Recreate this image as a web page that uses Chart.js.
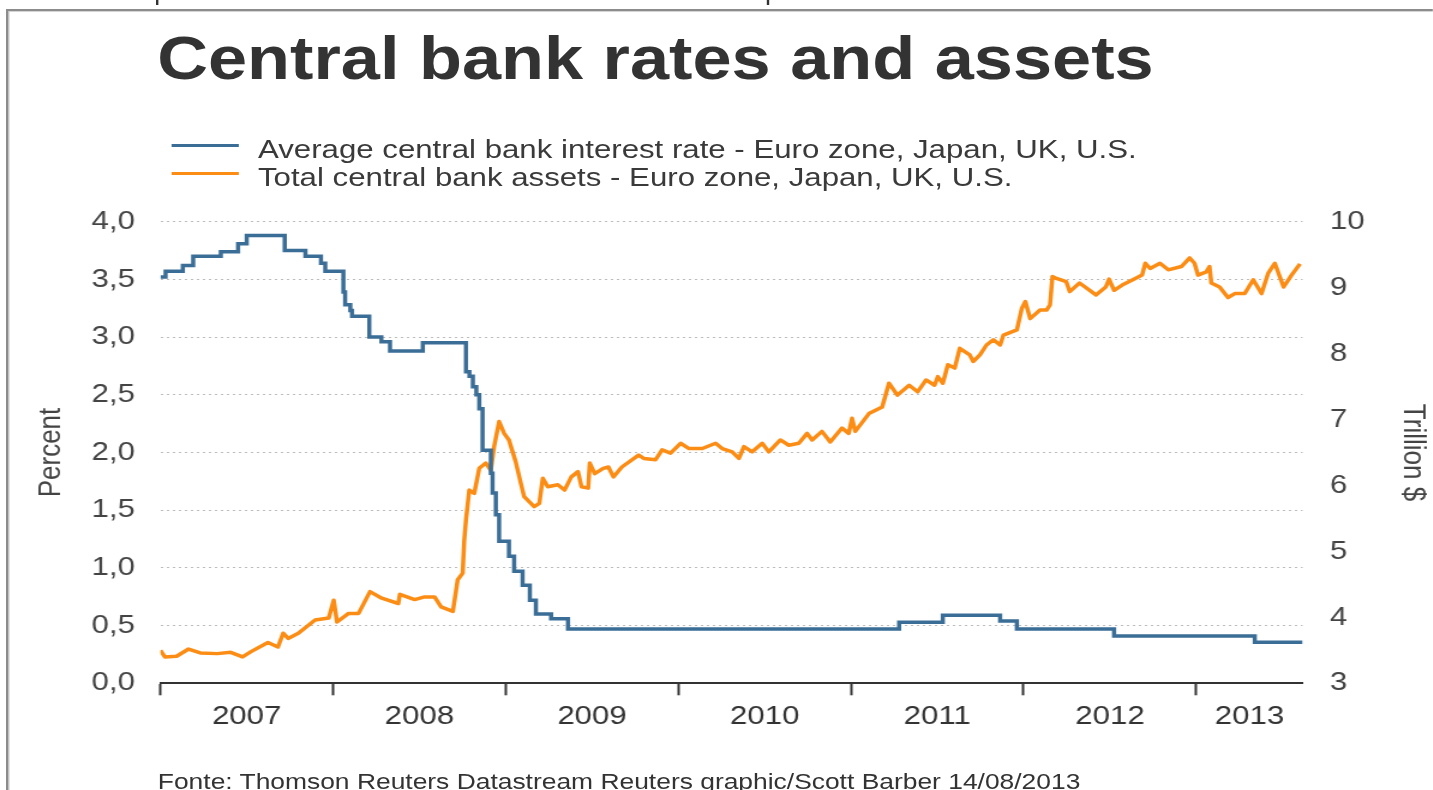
<!DOCTYPE html>
<html lang="en">
<head>
  <meta charset="UTF-8" />
  <title>Central bank rates and assets</title>
  <script src="https://cdn.jsdelivr.net/npm/chart.js"></script>
  <style>
    html, body {
      margin: 0;
      padding: 0;
      background: #fff;
      overflow: hidden;
    }
    body {
      width: 1433px;
      height: 790px;
      font-family: 'Liberation Sans', Arial, sans-serif;
      color: #333;
    }
    /* graphic is laid out 1194px wide, then stretched to the window width */
    #page {
      position: relative;
      width: 1194px;
      height: 790px;
      overflow: hidden;
      transform: scaleX(1.2);
      transform-origin: 0 0;
    }
    #frame {
      position: absolute;
      left: 5px;
      top: 9px;
      right: -20px;
      bottom: -20px;
      border-left: 2px solid #8c8c8c;
      border-top: 2px solid #8c8c8c;
      box-shadow: inset 1px 1px 0 #d4d4d4;
    }
    .cut {
      position: absolute;
      top: 0;
      width: 2px;
      height: 5px;
      background: #333;
    }
    #title {
      position: absolute;
      left: 131px;
      top: 27px;
      font-weight: bold;
      font-size: 62px;
      line-height: 62px;
      color: #333;
      white-space: nowrap;
      transform: scaleX(0.945);
      transform-origin: 0 0;
    }
    #legend {
      position: absolute;
      left: 143px;
      top: 135px;
      font-size: 26px;
      line-height: 28px;
      color: #3a3a3a;
    }
    .row {
      display: flex;
      white-space: nowrap;
    }
    .swatch {
      width: 56px;
      height: 3px;
      margin-top: 9px;
      margin-right: 16px;
    }
    #source {
      position: absolute;
      left: 131.5px;
      top: 771px;
      font-size: 22px;
      line-height: 22px;
      color: #333;
      white-space: nowrap;
    }
    #chart {
      position: absolute;
      left: 0;
      top: 0;
      width: 1194px;
      height: 790px;
    }
  </style>
</head>
<body>
  <div id="page">
    <div id="frame"></div>
    <div class="cut" style="left:130px"></div>
    <div class="cut" style="left:639px"></div>

    <div id="title">Central bank rates and assets</div>

    <div id="legend">
      <div class="row"><span class="swatch" style="background:#3b6e97"></span>Average central bank interest rate - Euro zone, Japan, UK, U.S.</div>
      <div class="row"><span class="swatch" style="background:#fb8c14"></span>Total central bank assets - Euro zone, Japan, UK, U.S.</div>
    </div>

    <canvas id="chart" width="1194" height="790"></canvas>

    <div id="source">Fonte: Thomson Reuters Datastream Reuters graphic/Scott Barber 14/08/2013</div>
  </div>

  <script>
    // dates are decimal years, data runs to 14/08/2013
    const years = [2007, 2008, 2009, 2010, 2011, 2012, 2013];
    const xMax = 2013.616;

    // average policy rate (percent), value holds from each date onward
    const rateYears = [2007.0, 2007.03, 2007.13, 2007.19, 2007.35, 2007.45, 2007.5, 2007.72, 2007.84, 2007.93,
      2007.955, 2008.06, 2008.07, 2008.1, 2008.11, 2008.21, 2008.28, 2008.33, 2008.52, 2008.77,
      2008.79, 2008.81, 2008.83, 2008.847, 2008.866, 2008.914, 2008.924, 2008.943, 2008.962, 2009.019,
      2009.049, 2009.098, 2009.14, 2009.175, 2009.263, 2009.361, 2011.279, 2011.532, 2011.864, 2011.961,
      2012.524, 2013.339, 2013.616];
    const rateValues = [3.52, 3.57, 3.62, 3.70, 3.74, 3.81, 3.88, 3.75, 3.70, 3.64,
      3.57, 3.39, 3.28, 3.23, 3.18, 3.00, 2.96, 2.88, 2.95, 2.70,
      2.66, 2.57, 2.50, 2.38, 2.02, 1.82, 1.65, 1.46, 1.23, 1.10,
      0.97, 0.85, 0.72, 0.60, 0.56, 0.47, 0.53, 0.59, 0.54, 0.47,
      0.41, 0.355, 0.355];

    // total assets (trillion $)
    const assetYears = [2007.0, 2007.026, 2007.094, 2007.163, 2007.231, 2007.329, 2007.407, 2007.476, 2007.525, 2007.623,
      2007.681, 2007.711, 2007.740, 2007.799, 2007.896, 2007.975, 2008.004, 2008.023, 2008.090, 2008.148,
      2008.214, 2008.282, 2008.378, 2008.387, 2008.473, 2008.530, 2008.588, 2008.626, 2008.694, 2008.722,
      2008.751, 2008.760, 2008.770, 2008.789, 2008.818, 2008.847, 2008.885, 2008.914, 2008.933, 2008.962,
      2008.991, 2009.019, 2009.058, 2009.088, 2009.107, 2009.165, 2009.195, 2009.215, 2009.244, 2009.302,
      2009.341, 2009.380, 2009.419, 2009.439, 2009.478, 2009.487, 2009.516, 2009.565, 2009.595, 2009.624,
      2009.673, 2009.770, 2009.800, 2009.868, 2009.906, 2009.955, 2010.013, 2010.062, 2010.139, 2010.216,
      2010.254, 2010.312, 2010.351, 2010.380, 2010.428, 2010.486, 2010.524, 2010.591, 2010.640, 2010.698,
      2010.746, 2010.775, 2010.832, 2010.880, 2010.948, 2010.987, 2011.006, 2011.025, 2011.104, 2011.181,
      2011.220, 2011.269, 2011.337, 2011.386, 2011.435, 2011.484, 2011.503, 2011.532, 2011.561, 2011.601,
      2011.630, 2011.688, 2011.708, 2011.747, 2011.785, 2011.825, 2011.864, 2011.883, 2011.961, 2011.990,
      2012.010, 2012.038, 2012.095, 2012.133, 2012.153, 2012.167, 2012.190, 2012.247, 2012.267, 2012.324,
      2012.419, 2012.476, 2012.495, 2012.524, 2012.571, 2012.647, 2012.686, 2012.705, 2012.733, 2012.790,
      2012.838, 2012.914, 2012.962, 2012.990, 2013.010, 2013.058, 2013.077, 2013.087, 2013.135, 2013.184,
      2013.223, 2013.281, 2013.330, 2013.378, 2013.417, 2013.455, 2013.506, 2013.552, 2013.601];
    const assetValues = [3.50, 3.40, 3.41, 3.52, 3.46, 3.45, 3.47, 3.40, 3.48, 3.62,
      3.55, 3.76, 3.68, 3.76, 3.96, 3.99, 4.26, 3.93, 4.06, 4.06,
      4.39, 4.29, 4.21, 4.35, 4.27, 4.31, 4.31, 4.16, 4.09, 4.57,
      4.67, 5.17, 5.48, 5.93, 5.88, 6.26, 6.34, 6.23, 6.59, 6.97,
      6.79, 6.69, 6.36, 6.03, 5.83, 5.68, 5.73, 6.11, 5.98, 6.01,
      5.93, 6.13, 6.21, 5.98, 5.96, 6.34, 6.18, 6.26, 6.28, 6.13,
      6.28, 6.46, 6.41, 6.39, 6.54, 6.49, 6.64, 6.56, 6.56, 6.64,
      6.56, 6.51, 6.41, 6.59, 6.51, 6.64, 6.51, 6.69, 6.61, 6.64,
      6.79, 6.69, 6.82, 6.66, 6.87, 6.79, 7.02, 6.82, 7.09, 7.19,
      7.55, 7.37, 7.52, 7.42, 7.60, 7.52, 7.65, 7.55, 7.83, 7.78,
      8.08, 7.98, 7.88, 7.98, 8.13, 8.21, 8.13, 8.28, 8.36, 8.69,
      8.79, 8.53, 8.66, 8.66, 8.74, 9.17, 9.14, 9.09, 8.94, 9.07,
      8.89, 9.01, 9.13, 8.96, 9.04, 9.14, 9.19, 9.37, 9.29, 9.37,
      9.27, 9.32, 9.45, 9.37, 9.19, 9.24, 9.32, 9.07, 9.01, 8.85,
      8.91, 8.91, 9.12, 8.91, 9.22, 9.37, 9.01, 9.19, 9.36];

    // tick marks at each year start, year labels in the middle of each year
    const xTicks = [];
    years.forEach(y => {
      xTicks.push(y);
      xTicks.push((y + Math.min(y + 1, xMax)) / 2);
    });

    const blue = '#3b6e97';
    const orange = '#fb8c14';
    const none = 'rgba(0,0,0,0)';

    Chart.defaults.font.family = "'Liberation Sans', Arial, sans-serif";
    Chart.defaults.color = '#444';

    new Chart(document.getElementById('chart'), {
      type: 'line',
      data: {
        datasets: [{
          label: 'Average central bank interest rate',
          data: rateYears.map((x, i) => ({ x, y: rateValues[i] })),
          yAxisID: 'y',
          borderColor: blue,
          borderWidth: 3.5,
          stepped: true,
          pointRadius: 0
        }, {
          label: 'Total central bank assets',
          data: assetYears.map((x, i) => ({ x, y: assetValues[i] })),
          yAxisID: 'y1',
          borderColor: orange,
          borderWidth: 3.5,
          borderJoinStyle: 'round',
          tension: 0,
          pointRadius: 0
        }]
      },
      options: {
        responsive: false,
        animation: false,
        events: [],
        // axis boxes count tick padding twice, the title paddings make up for it
        layout: {
          padding: { left: 27.7, right: 1, top: 221.7, bottom: 51.5 }
        },
        plugins: {
          legend: { display: false },
          tooltip: { enabled: false }
        },
        scales: {
          x: {
            type: 'linear',
            min: 2007,
            max: xMax,
            afterBuildTicks: axis => {
              axis.ticks = xTicks.map(v => ({ value: v }));
            },
            ticks: {
              autoSkip: false,
              maxRotation: 0,
              padding: 6,
              font: { size: 26 },
              color: '#333',
              callback: v => Number.isInteger(v) ? '' : String(Math.floor(v))
            },
            grid: {
              drawOnChartArea: false,
              drawTicks: true,
              tickLength: 12,
              tickWidth: 2,
              tickColor: c => Number.isInteger(c.tick.value) ? '#333' : none
            },
            border: { color: '#333', width: 2 }
          },
          y: {
            position: 'left',
            min: 0,
            max: 4,
            ticks: {
              stepSize: 0.5,
              padding: 21.3,
              font: { size: 26 },
              callback: v => v.toFixed(1).replace('.', ',')
            },
            grid: {
              drawTicks: false,
              lineWidth: 1,
              color: c => c.tick.value === 0 ? none : '#bdbdbd'
            },
            border: { display: false, dash: [2, 3] },
            title: {
              display: true,
              text: 'Percent',
              font: { size: 26 },
              padding: { top: 0, bottom: -4 }
            }
          },
          y1: {
            position: 'right',
            min: 3,
            max: 10,
            ticks: {
              stepSize: 1,
              padding: 22.8,
              font: { size: 26 }
            },
            grid: { drawOnChartArea: false, drawTicks: false },
            border: { display: false },
            title: {
              display: true,
              text: 'Trillion $',
              font: { size: 26 },
              padding: { top: 0, bottom: 1.8 }
            }
          }
        }
      }
    });
  </script>
</body>
</html>
